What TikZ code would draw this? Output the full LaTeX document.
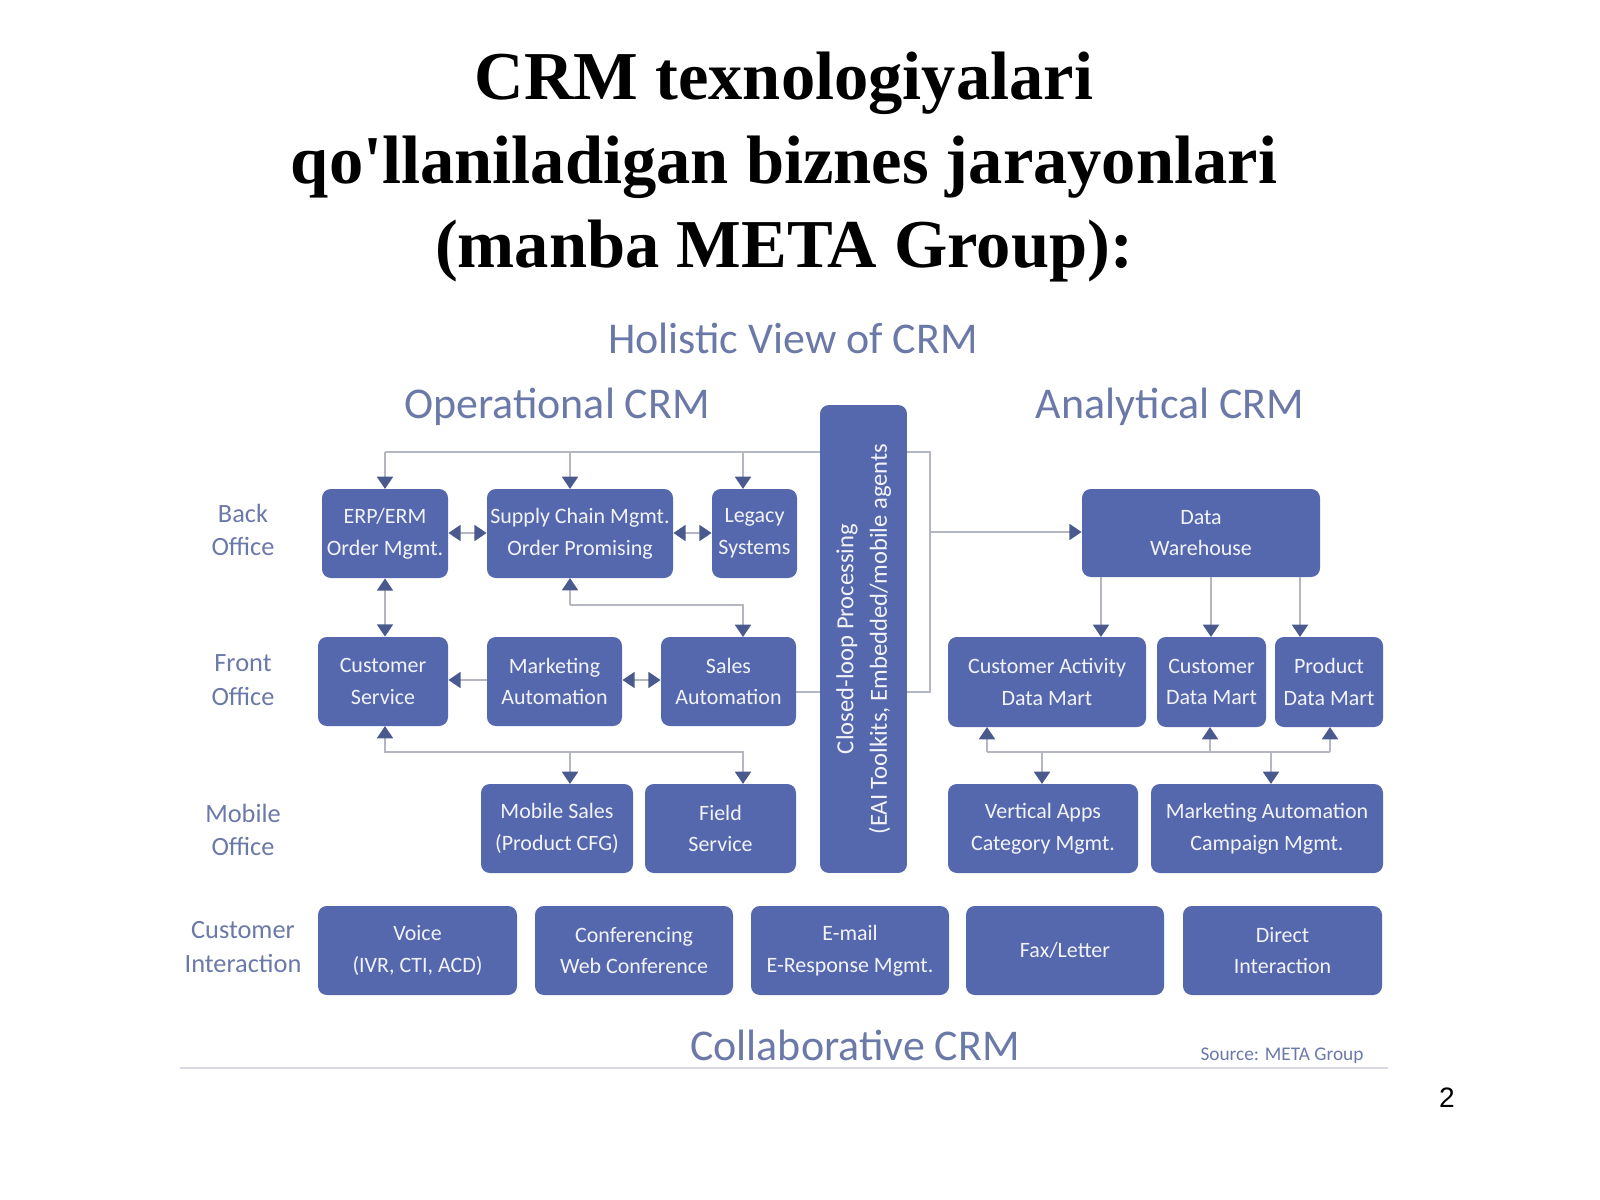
\documentclass[tikz,border=0pt]{standalone}
\usepackage{fontspec}
\setmainfont{Liberation Serif}
\newfontfamily\boxfont{Carlito}
\usetikzlibrary{arrows.meta}
\definecolor{boxblue}{HTML}{5568AE}
\definecolor{headblue}{HTML}{6B79A9}
\definecolor{tipblue}{HTML}{4A5A8E}
\definecolor{linegray}{HTML}{B4B6C2}

\begin{document}
\begin{tikzpicture}[x=0.02cm,y=-0.02cm,
    box/.style={fill=boxblue, rounded corners=5pt, text=white!92!boxblue, align=center,
      font=\boxfont\fontsize{12.5}{18}\selectfont, inner sep=0pt},
    side/.style={text=headblue, align=center, font=\boxfont\fontsize{15}{19}\selectfont},
    head/.style={text=headblue, font=\boxfont\fontsize{25}{30}\selectfont},
    link/.style={draw=linegray, line width=1.4pt},
    tip/.style={-{Triangle[length=7pt,width=9pt,color=tipblue]}},
    both/.style={{Triangle[length=7pt,width=9pt,color=tipblue]}-{Triangle[length=7pt,width=9pt,color=tipblue]}}]
    \useasboundingbox (0,0) rectangle (1600,1200);

    % Title
    \node[font=\bfseries\fontsize{39}{47.6}\selectfont, align=center] (title) at (784,167)
        {CRM texnologiyalari\\qo\textquotesingle llaniladigan biznes jarayonlari\\(manba META Group):};

    % Headings
    \node[head] (holistic) at (793,338) {Holistic View of CRM};
    \node[head] (oper) at (557,407) {Operational CRM};
    \node[head] (anal) at (1170,407) {Analytical CRM};
    \node[head] (collab) at (855,1045) {Collaborative CRM};
    \node[text=headblue, font=\boxfont\fontsize{11}{13}\selectfont] (source) at (1282,1056) {Source: META Group};
    \draw[draw=linegray!50, line width=0.8pt] (180,1068) -- (1388,1068);

    % Row labels
    \node[side] (back) at (243,530) {Back\\Office};
    \node[side] (front) at (243,680) {Front\\Office};
    \node[side] (mobile) at (243,830) {Mobile\\Office};
    \node[side] (inter) at (243,947) {Customer\\Interaction};

    % Boxes
    \foreach \name/\xa/\ya/\xb/\yb/\txt in {
        erp/322/489/448/578/{ERP/ERM\\Order Mgmt.},
        supply/487/489/673/578/{Supply Chain Mgmt.\\Order Promising},
        legacy/712/489/797/578/{Legacy\\Systems},
        cserv/318/637/448/726/{Customer\\Service},
        market/487/637/622/726/{Marketing\\Automation},
        sales/661/637/796/726/{Sales\\Automation},
        msales/481/784/633/873/{Mobile Sales\\(Product CFG)},
        field/645/784/796/873/{Field\\Service},
        dw/1082/489/1320/577/{Data\\Warehouse},
        cact/948/637/1146/727/{Customer Activity\\Data Mart},
        cdm/1157/637/1266/727/{Customer\\Data Mart},
        pdm/1275/637/1383/727/{Product\\Data Mart},
        vert/948/784/1138/873/{Vertical Apps\\Category Mgmt.},
        mauto/1151/784/1383/873/{Marketing Automation\\Campaign Mgmt.},
        voice/318/906/517/995/{Voice\\(IVR, CTI, ACD)},
        conf/535/906/733/995/{Conferencing\\Web Conference},
        email/751/906/949/995/{E-mail\\E-Response Mgmt.},
        fax/966/906/1164/995/{Fax/Letter},
        direct/1183/906/1382/995/{Direct\\Interaction}} {
        \node[box, minimum width={(\xb-\xa)*0.02cm}, minimum height={(\yb-\ya)*0.02cm}]
            (\name) at ({(\xa+\xb)/2},{(\ya+\yb)/2}) {\txt};
    }

    % Operational links
    \draw[link] (sales.east |- 0,692) -- (930,692) -- (930,452) -- (385,452);
    \foreach \x in {385,570,743}
        \draw[link, tip] (\x,452) -- (\x,489);
    \draw[link, tip] (930,532) -- (dw.west |- 0,532);
    \draw[link, both] (erp.east |- 0,533) -- (supply.west |- 0,533);
    \draw[link, both] (supply.east |- 0,533) -- (legacy.west |- 0,533);
    \draw[link, both] (erp.south -| 385,0) -- (cserv.north -| 385,0);
    \draw[link, tip] (570,605) -- (570,578);
    \draw[link, tip] (570,605) -- (743,605) -- (743,637);
    \draw[link, tip] (market.west |- 0,680) -- (cserv.east |- 0,680);
    \draw[link, both] (market.east |- 0,680) -- (sales.west |- 0,680);
    \draw[link, tip] (570,752) -- (385,752) -- (385,726);
    \draw[link, tip] (570,752) -- (570,784);
    \draw[link, tip] (570,752) -- (743,752) -- (743,784);

    % Closed-loop bar
    \node[box, minimum width=1.74cm, minimum height=9.36cm, font=\boxfont\fontsize{14}{19}\selectfont]
        (loop) at (863.5,639) {\rotatebox{90}{\begin{tabular}{c}Closed-loop Processing\\(EAI Toolkits, Embedded/mobile agents\end{tabular}}};

    % Analytical links
    \foreach \x in {1101,1211,1300}
        \draw[link, tip] (\x,577) -- (\x,637);
    \draw[link] (987,752) -- (1330,752);
    \foreach \x in {987,1210,1330}
        \draw[link, tip] (\x,752) -- (\x,727);
    \foreach \x in {1042,1271}
        \draw[link, tip] (\x,752) -- (\x,784);

    % Page number
    \node[font=\fontspec{Liberation Sans}\fontsize{16}{19}\selectfont] (page) at (1447,1098) {2};
\end{tikzpicture}
\end{document}
